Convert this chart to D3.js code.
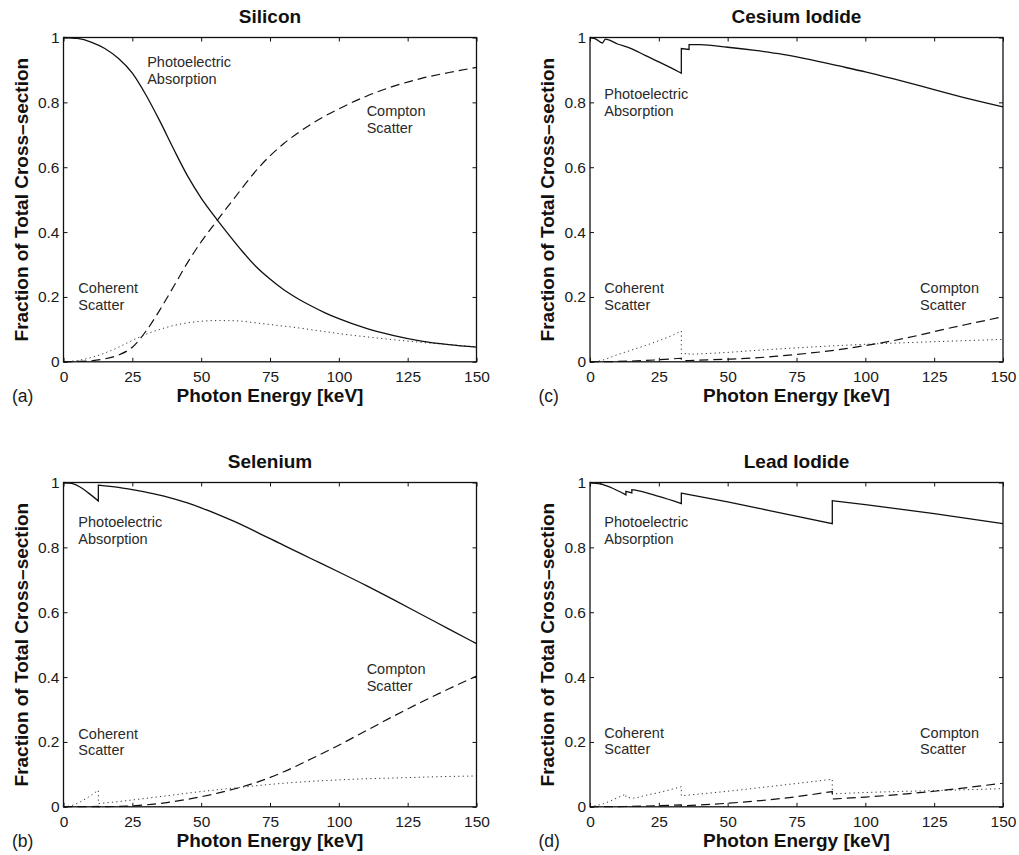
<!DOCTYPE html>
<html><head><meta charset="utf-8">
<script src="https://cdn.jsdelivr.net/npm/d3@7"></script>
<style>
html,body{margin:0;padding:0;background:#fff;}
svg{display:block;font-family:"Liberation Sans",Arial,Helvetica,sans-serif;}
</style></head><body>
<svg id="chart" width="1019" height="855"></svg>
<script>
// Axis ticks shared by all four panels
const xTicks = [0, 25, 50, 75, 100, 125, 150];
const yTicks = [0, 0.2, 0.4, 0.6, 0.8, 1];
const yTickLabels = ["0", "0.2", "0.4", "0.6", "0.8", "1"];

// Fractions of the total cross-section, [energy keV, fraction].
// A repeated energy marks an absorption edge (vertical step).
const siliconPhoto = [[0,1.0],[5,0.997],[10,0.986],[15,0.966],[20,0.935],[25,0.89],[30,0.822],[35,0.742],[40,0.656],[45,0.574],[50,0.505],[55,0.447],[60,0.392],[65,0.34],[70,0.293],[75,0.255],[80,0.222],[85,0.195],[90,0.172],[95,0.151],[100,0.133],[110,0.103],[120,0.081],[130,0.064],[140,0.053],[150,0.045]];
const siliconCompton = [[0,0],[5,0.001],[10,0.003],[15,0.009],[20,0.021],[25,0.045],[30,0.095],[35,0.16],[40,0.232],[45,0.305],[50,0.37],[55,0.427],[60,0.482],[65,0.537],[70,0.59],[75,0.635],[80,0.673],[85,0.705],[90,0.733],[95,0.758],[100,0.78],[110,0.819],[120,0.85],[130,0.874],[140,0.892],[150,0.908]];
const siliconCoherent = [[0,0],[5,0.004],[10,0.013],[15,0.027],[20,0.045],[25,0.066],[30,0.085],[35,0.1],[40,0.112],[45,0.12],[50,0.125],[55,0.127],[60,0.127],[65,0.125],[70,0.12],[75,0.115],[80,0.11],[85,0.105],[90,0.099],[95,0.093],[100,0.087],[110,0.077],[120,0.068],[130,0.06],[140,0.053],[150,0.046]];

const seleniumPhoto = [[0,1.0],[3,0.997],[6,0.986],[9,0.968],[12.66,0.943],[12.66,0.992],[20,0.985],[25,0.978],[30,0.97],[37.5,0.956],[45,0.937],[50,0.922],[56,0.902],[62,0.88],[70,0.848],[80,0.806],[90,0.765],[100,0.724],[110,0.682],[120,0.638],[130,0.593],[140,0.548],[150,0.503]];
const seleniumCompton = [[0,0],[12.66,0.001],[12.66,0],[25,0.003],[37.5,0.013],[45,0.023],[50,0.031],[56,0.042],[62,0.055],[70,0.075],[80,0.108],[90,0.148],[100,0.19],[110,0.235],[120,0.28],[130,0.323],[140,0.364],[150,0.403]];
const seleniumCoherent = [[0,0],[3,0.004],[6,0.015],[9,0.03],[12.66,0.051],[12.66,0.01],[20,0.016],[25,0.021],[37.5,0.034],[50,0.047],[62,0.058],[75,0.069],[87,0.077],[100,0.083],[112,0.087],[125,0.09],[137,0.093],[150,0.095]];

const csiPhoto = [[0,1.0],[2,0.996],[4.5,0.983],[5.6,0.995],[10,0.98],[15,0.966],[20,0.945],[25,0.925],[30,0.904],[33.17,0.89],[33.17,0.966],[35.98,0.963],[35.98,0.978],[40,0.978],[50,0.97],[60,0.96],[70,0.948],[80,0.932],[90,0.913],[100,0.894],[110,0.873],[120,0.851],[130,0.828],[140,0.806],[150,0.786]];
const csiCompton = [[0,0],[10,0.001],[20,0.004],[33.17,0.011],[33.17,0.003],[35.98,0.004],[50,0.008],[60,0.012],[70,0.019],[80,0.027],[90,0.037],[100,0.05],[110,0.065],[120,0.083],[130,0.103],[140,0.121],[150,0.139]];
const csiCoherent = [[0,0],[3,0.002],[10,0.022],[15,0.036],[20,0.05],[25,0.065],[30,0.082],[33.17,0.095],[33.17,0.024],[35.98,0.026],[35.98,0.023],[50,0.029],[60,0.035],[75,0.043],[100,0.054],[125,0.062],[150,0.069]];

const pbi2Photo = [[0,1.0],[2.5,0.997],[2.5,0.998],[3.9,0.995],[3.9,0.996],[5.2,0.992],[8,0.983],[13.04,0.962],[13.04,0.973],[15.2,0.968],[15.2,0.978],[16,0.977],[25,0.957],[33.17,0.935],[33.17,0.967],[50,0.94],[70,0.905],[88,0.873],[88,0.944],[100,0.932],[125,0.904],[150,0.873]];
const pbi2Compton = [[0,0],[13.04,0.001],[33.17,0.006],[33.17,0.003],[50,0.011],[70,0.026],[88,0.047],[88,0.024],[100,0.03],[115,0.04],[125,0.048],[150,0.073]];
const pbi2Coherent = [[0,0],[5,0.01],[10,0.028],[13.04,0.039],[13.04,0.03],[15.86,0.027],[20,0.035],[25,0.044],[33.17,0.062],[33.17,0.034],[50,0.048],[70,0.067],[88,0.085],[88,0.04],[100,0.044],[125,0.05],[150,0.056]];

// Panel layout and annotation placement (in data coordinates)
const plotW = 413, plotH = 324.3;
const panels = [
  {title: "Silicon", tag: "(a)", left: 63.5, top: 37.5,
   photo: siliconPhoto, compton: siliconCompton, coherent: siliconCoherent,
   notes: [{x: 30.4, y: 0.909, lines: ["Photoelectric", "Absorption"]},
           {x: 110.1, y: 0.757, lines: ["Compton", "Scatter"]},
           {x: 5.4, y: 0.211, lines: ["Coherent", "Scatter"]}]},
  {title: "Cesium Iodide", tag: "(c)", left: 590, top: 37.5,
   photo: csiPhoto, compton: csiCompton, coherent: csiCoherent,
   notes: [{x: 5.2, y: 0.81, lines: ["Photoelectric", "Absorption"]},
           {x: 119.9, y: 0.211, lines: ["Compton", "Scatter"]},
           {x: 5.2, y: 0.211, lines: ["Coherent", "Scatter"]}]},
  {title: "Selenium", tag: "(b)", left: 63.5, top: 482.5,
   photo: seleniumPhoto, compton: seleniumCompton, coherent: seleniumCoherent,
   notes: [{x: 5.4, y: 0.862, lines: ["Photoelectric", "Absorption"]},
           {x: 110.1, y: 0.408, lines: ["Compton", "Scatter"]},
           {x: 5.4, y: 0.21, lines: ["Coherent", "Scatter"]}]},
  {title: "Lead Iodide", tag: "(d)", left: 590, top: 482.5,
   photo: pbi2Photo, compton: pbi2Compton, coherent: pbi2Coherent,
   notes: [{x: 5.2, y: 0.862, lines: ["Photoelectric", "Absorption"]},
           {x: 119.9, y: 0.213, lines: ["Compton", "Scatter"]},
           {x: 5.2, y: 0.213, lines: ["Coherent", "Scatter"]}]}
];

const svg = d3.select("#chart");

// Smooth path that keeps absorption edges as vertical steps
function edgePath(points, x, y) {
  const segs = [];
  let cur = [];
  points.forEach((p, i) => {
    if (i > 0 && p[0] === points[i - 1][0]) { segs.push(cur); cur = []; }
    cur.push(p);
  });
  segs.push(cur);
  const gen = d3.line().x(d => x(d[0])).y(d => y(d[1])).curve(d3.curveMonotoneX);
  return segs.map((s, i) => {
    const d = s.length > 1 ? gen(s) : `M${x(s[0][0])},${y(s[0][1])}`;
    return i ? d.replace(/^M/, "L") : d;
  }).join("");
}

panels.forEach(p => {
  const g = svg.append("g").attr("transform", `translate(${p.left},${p.top})`);
  const x = d3.scaleLinear().domain([0, 150]).range([0, plotW]);
  const y = d3.scaleLinear().domain([0, 1]).range([plotH, 0]);

  // Curves
  g.append("path").attr("d", edgePath(p.coherent, x, y))
    .attr("fill", "none").attr("stroke", "#333").attr("stroke-width", 1)
    .attr("stroke-dasharray", "1.2,3.2");
  g.append("path").attr("d", edgePath(p.compton, x, y))
    .attr("fill", "none").attr("stroke", "#111").attr("stroke-width", 1.2)
    .attr("stroke-dasharray", "9,5");
  g.append("path").attr("d", edgePath(p.photo, x, y))
    .attr("fill", "none").attr("stroke", "#111").attr("stroke-width", 1.3);

  // Axes with inward ticks on all four sides
  const tickStyle = sel => {
    sel.select(".domain").remove();
    sel.selectAll(".tick line").attr("stroke", "#111").attr("stroke-width", 1);
    sel.selectAll(".tick text").attr("fill", "#1a1a1a")
      .style("font-size", "15.5px").style("font-family", '"Liberation Sans",Arial,sans-serif');
  };
  g.append("g").attr("transform", `translate(0,${plotH})`)
    .call(d3.axisBottom(x).tickValues(xTicks).tickFormat(d3.format("d"))
      .tickSizeInner(-4).tickSizeOuter(0).tickPadding(9))
    .call(tickStyle);
  g.append("g")
    .call(d3.axisTop(x).tickValues(xTicks).tickFormat("").tickSizeInner(-4).tickSizeOuter(0))
    .call(tickStyle);
  g.append("g")
    .call(d3.axisLeft(y).tickValues(yTicks).tickFormat((d, i) => yTickLabels[i])
      .tickSizeInner(-4).tickSizeOuter(0).tickPadding(4))
    .call(tickStyle);
  g.append("g").attr("transform", `translate(${plotW},0)`)
    .call(d3.axisRight(y).tickValues(yTicks).tickFormat("").tickSizeInner(-4).tickSizeOuter(0))
    .call(tickStyle);

  g.append("rect").attr("width", plotW).attr("height", plotH)
    .attr("fill", "none").attr("stroke", "#111").attr("stroke-width", 1.3);

  // Annotations
  p.notes.forEach(n => {
    const t = g.append("text").attr("x", x(n.x)).attr("y", y(n.y))
      .attr("fill", "#2a2a2a").style("font-size", "14.5px");
    n.lines.forEach((line, i) => {
      t.append("tspan").attr("x", x(n.x)).attr("dy", i ? 16.7 : 0).text(line);
    });
  });

  // Titles and axis labels
  g.append("text").attr("x", plotW / 2).attr("y", -14.5).attr("text-anchor", "middle")
    .attr("fill", "#111").style("font-size", "19px").style("font-weight", "bold").text(p.title);
  g.append("text").attr("x", plotW / 2).attr("y", plotH + 40.5).attr("text-anchor", "middle")
    .attr("fill", "#111").style("font-size", "19px").style("font-weight", "bold")
    .text("Photon Energy [keV]");
  g.append("text").attr("transform", `translate(-36,${plotH / 2}) rotate(-90)`)
    .attr("text-anchor", "middle").attr("fill", "#111")
    .style("font-size", "19px").style("font-weight", "bold")
    .text("Fraction of Total Cross\u2013section");
  g.append("text").attr("x", -51.5).attr("y", plotH + 40).attr("fill", "#1a1a1a")
    .style("font-size", "17.5px").text(p.tag);
});
</script>
</body></html>
